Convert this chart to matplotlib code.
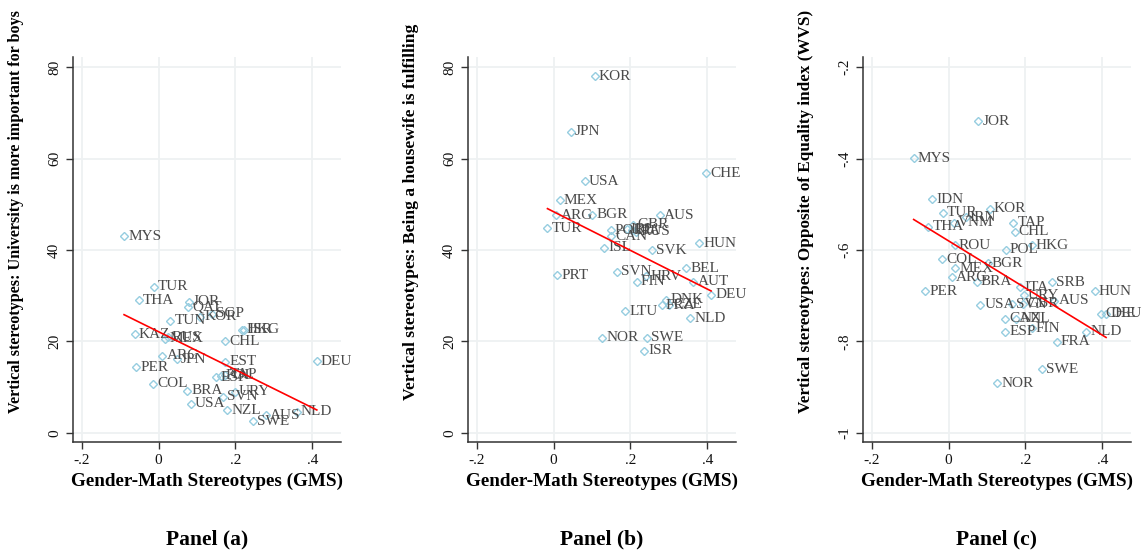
import numpy as np
import matplotlib
matplotlib.use("Agg")
import matplotlib.pyplot as plt

plt.rcParams['font.family'] = ['Liberation Serif', 'DejaVu Serif']

# Panel (a): University is more important for boys
a_codes = ['MYS', 'TUR', 'THA', 'JOR', 'QAT', 'SGP', 'KOR', 'TUN', 'KAZ', 'MEX',
           'RUS', 'HKG', 'ISR', 'CHL', 'ARG', 'JPN', 'EST', 'DEU', 'PER', 'COL',
           'ESP', 'POL', 'TAP', 'BRA', 'URY', 'SVN', 'USA', 'NZL', 'AUS', 'NLD', 'SWE']
a_gms = [-0.090, -0.013, -0.051, 0.079, 0.076, 0.139, 0.109, 0.030, -0.062, 0.017,
         0.024, 0.218, 0.222, 0.174, 0.010, 0.047, 0.173, 0.412, -0.058, -0.015,
         0.150, 0.163, 0.174, 0.074, 0.198, 0.167, 0.084, 0.179, 0.280, 0.360, 0.245]
a_val = [43.0, 32.0, 29.0, 28.7, 27.5, 26.1, 25.4, 24.5, 21.6, 20.6,
         20.9, 22.5, 22.6, 20.0, 16.9, 16.1, 15.6, 15.7, 14.3, 10.7,
         12.2, 12.5, 12.7, 9.2, 9.0, 7.9, 6.4, 4.9, 3.9, 4.6, 2.5]

# Panel (b): Being a housewife is fulfilling
b_codes = ['KOR', 'JPN', 'USA', 'CHE', 'MEX', 'ARG', 'BGR', 'AUS', 'TUR', 'GBR',
           'POL', 'IRL', 'ITA', 'RUS', 'CAN', 'ISL', 'SVK', 'HUN', 'BEL', 'PRT',
           'SVN', 'HRV', 'FIN', 'AUT', 'DEU', 'DNK', 'FRA', 'CZE', 'LTU', 'NLD',
           'NOR', 'SWE', 'ISR']
b_gms = [0.107, 0.044, 0.081, 0.398, 0.016, 0.007, 0.101, 0.277, -0.016, 0.206,
         0.149, 0.190, 0.205, 0.215, 0.149, 0.132, 0.255, 0.379, 0.345, 0.010,
         0.164, 0.241, 0.216, 0.364, 0.410, 0.293, 0.281, 0.300, 0.187, 0.356,
         0.127, 0.242, 0.236]
b_val = [78.0, 65.9, 55.0, 56.8, 50.9, 47.6, 47.7, 47.6, 44.7, 45.5,
         44.3, 44.5, 44.3, 44.0, 43.0, 40.5, 39.9, 41.5, 36.0, 34.5,
         35.2, 34.2, 33.0, 33.1, 30.2, 29.1, 27.9, 28.0, 26.6, 25.1,
         20.8, 20.8, 18.0]

# Panel (c): Opposite of Equality index (WVS)
c_codes = ['JOR', 'MYS', 'IDN', 'TUR', 'VNM', 'IRN', 'KOR', 'THA', 'TAP', 'CHL',
           'ROU', 'POL', 'HKG', 'COL', 'MEX', 'BGR', 'ARG', 'BRA', 'ITA', 'SRB',
           'PER', 'HUN', 'URY', 'AUS', 'USA', 'SVN', 'GBR', 'CAN', 'NZL', 'FIN',
           'ESP', 'NLD', 'CHE', 'DEU', 'FRA', 'SWE', 'NOR']
c_gms = [0.077, -0.091, -0.043, -0.015, 0.014, 0.044, 0.107, -0.053, 0.168, 0.172,
         0.016, 0.149, 0.216, -0.016, 0.017, 0.102, 0.009, 0.073, 0.186, 0.270,
         -0.061, 0.380, 0.196, 0.275, 0.082, 0.165, 0.195, 0.148, 0.176, 0.216,
         0.148, 0.358, 0.397, 0.410, 0.281, 0.242, 0.126]
c_val = [-0.319, -0.399, -0.489, -0.519, -0.540, -0.529, -0.510, -0.549, -0.540, -0.560,
         -0.590, -0.600, -0.590, -0.620, -0.640, -0.629, -0.660, -0.669, -0.682, -0.671,
         -0.690, -0.690, -0.699, -0.711, -0.720, -0.719, -0.718, -0.750, -0.750, -0.771,
         -0.779, -0.779, -0.739, -0.739, -0.801, -0.861, -0.891]

xticks = [-0.2, 0, 0.2, 0.4]
xtick_labels = ['-.2', '0', '.2', '.4']
yticks_ab = [0, 20, 40, 60, 80]
yticks_c = [-1, -0.8, -0.6, -0.4, -0.2]
yticks_c_labels = ['-1', '-.8', '-.6', '-.4', '-.2']

panels = [
    (a_codes, a_gms, a_val, 'Vertical stereotypes: University is more important for boys',
     'Panel (a)', yticks_ab, [str(t) for t in yticks_ab], (-2.0, 82.2)),
    (b_codes, b_gms, b_val, 'Vertical stereotypes: Being a housewife is fulfilling',
     'Panel (b)', yticks_ab, [str(t) for t in yticks_ab], (-2.0, 82.2)),
    (c_codes, c_gms, c_val, 'Vertical stereotypes: Opposite of Equality index (WVS)',
     'Panel (c)', yticks_c, yticks_c_labels, (-1.02, -0.178)),
]

fig = plt.figure(figsize=(11.44, 5.54), dpi=100)
lefts = [73, 468, 863]
ylab_sizes = [11.6, 12.6, 12.3]
marker_col = '#96cde0'
grid_col = '#eef1f2'
axis_col = '#333333'

for left, ysize, (codes, gx, gy, ylab, ptitle, yt, ytl, ylim) in zip(lefts, ylab_sizes, panels):
    ax = fig.add_axes([left / 1144, 1 - 442 / 554, 268 / 1144, 385 / 554])
    ax.set_xlim(-0.223, 0.475)
    ax.set_ylim(*ylim)
    ax.grid(True, color=grid_col, linewidth=1.3, zorder=0)
    ax.set_axisbelow(True)
    for side in ['top', 'right']:
        ax.spines[side].set_visible(False)
    for side in ['left', 'bottom']:
        ax.spines[side].set_color(axis_col)
        ax.spines[side].set_linewidth(1.1)
    ax.set_xticks(xticks)
    ax.set_xticklabels(xtick_labels)
    ax.set_yticks(yt)
    ax.set_yticklabels(ytl, rotation=90, va='center')
    ax.tick_params(direction='out', length=5, width=1, color=axis_col,
                   labelsize=11, labelcolor='#111111')

    x = np.array(gx)
    y = np.array(gy)
    ax.plot(x, y, linestyle='none', marker='D', markersize=4, mfc='none',
            mec=marker_col, mew=1, zorder=3)
    for code, xi, yi in zip(codes, x, y):
        ax.annotate(code, (xi, yi), xytext=(3, 0), textcoords='offset points',
                    va='center', ha='left', fontsize=11, color='#4a4a4a', zorder=4)

    # linear fit
    slope, inter = np.polyfit(x, y, 1)
    xs = np.array([x.min(), x.max()])
    ax.plot(xs, inter + slope * xs, color='red', linewidth=1.2, zorder=5)

    ax.set_xlabel('Gender-Math Stereotypes (GMS)', fontsize=13.8, fontweight='bold',
                  labelpad=4)
    ax.set_ylabel(ylab, fontsize=ysize, fontweight='bold')
    ax.yaxis.set_label_coords(-0.183, 0.598)
    ax.text(0.5, -0.226, ptitle, transform=ax.transAxes, ha='center', va='top',
            fontsize=15.5, fontweight='bold')

fig.savefig('out.png', dpi=100)
